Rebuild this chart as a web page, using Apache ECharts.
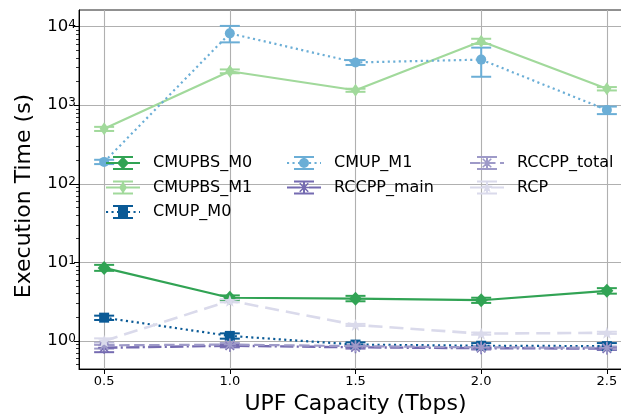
<!DOCTYPE html>
<html>
<head>
<meta charset="utf-8">
<script src="https://cdn.jsdelivr.net/npm/echarts@6/dist/echarts.min.js"></script>
<style>
html,body{margin:0;padding:0;background:#fff;}
#chart{width:621px;height:419px;}
</style>
</head>
<body>
<div id="chart"></div>
<script>
// ---------------- data ----------------
const capacities = [0.5, 1.0, 1.5, 2.0, 2.5];
const xTicks = [0.5, 1.0, 1.5, 2.0, 2.5];
const yMajorTicks = [1, 10, 100, 1000, 10000];

const cmupbsM0   = [8.5, 3.55, 3.45, 3.3, 4.35];
const cmupbsM0Lo = [7.8, 3.3, 3.2, 3.05, 4.0];
const cmupbsM0Hi = [9.3, 3.8, 3.75, 3.55, 4.7];

const cmupbsM1   = [500, 2700, 1550, 6500, 1620];
const cmupbsM1Lo = [470, 2550, 1480, 6000, 1540];
const cmupbsM1Hi = [530, 2850, 1620, 7000, 1700];

const cmupM0   = [1.98, 1.16, 0.90, 0.87, 0.86];
const cmupM0Lo = [1.85, 1.07, 0.84, 0.80, 0.78];
const cmupM0Hi = [2.10, 1.25, 0.96, 0.94, 0.94];

const cmupM1   = [190, 8200, 3500, 3800, 870];
const cmupM1Lo = [178, 6300, 3250, 2300, 770];
const cmupM1Hi = [202, 10200, 3750, 5400, 960];

const rccppMain   = [0.82, 0.87, 0.83, 0.81, 0.80];
const rccppMainLo = [0.72, 0.83, 0.80, 0.78, 0.77];
const rccppMainHi = [0.90, 0.91, 0.86, 0.84, 0.83];

const rccppTotal   = [0.88, 0.90, 0.86, 0.83, 0.82];
const rccppTotalLo = [0.80, 0.86, 0.83, 0.80, 0.79];
const rccppTotalHi = [0.95, 0.94, 0.89, 0.86, 0.85];

const rcp   = [1.0, 3.25, 1.6, 1.24, 1.27];
const rcpLo = [0.93, 3.1, 1.55, 1.2, 1.23];
const rcpHi = [1.08, 3.4, 1.65, 1.28, 1.31];

const seriesNames = ['CMUPBS_M0','CMUPBS_M1','CMUP_M0','CMUP_M1','RCCPP_main','RCCPP_total','RCP'];

// ---------------- helpers ----------------
const FONT = 'DejaVu Sans';
const f = n => (+n).toFixed(2);
function rectP(x, y, w, h) {
  return `M${f(x)} ${f(y)}L${f(x+w)} ${f(y)}L${f(x+w)} ${f(y+h)}L${f(x)} ${f(y+h)}Z`;
}
function barP(cx, cy, len, th, ang) {
  const c = Math.cos(ang), s = Math.sin(ang);
  const pts = [[-len,-th/2],[len,-th/2],[len,th/2],[-len,th/2]].map(([x,y]) => [cx + x*c - y*s, cy + x*s + y*c]);
  return 'M' + pts.map(p => f(p[0]) + ' ' + f(p[1])).join('L') + 'Z';
}
function asteriskP(cx, cy, r, th) {
  return [0, Math.PI/4, Math.PI/2, 3*Math.PI/4].map(a => barP(cx, cy, r, th, a)).join('');
}
function starP(cx, cy, R) {
  const r = R * 0.42; const pts = [];
  for (let i = 0; i < 10; i++) {
    const a = -Math.PI/2 + i * Math.PI / 5;
    const rr = i % 2 === 0 ? R : r;
    pts.push([cx + rr*Math.cos(a), cy + rr*Math.sin(a)]);
  }
  return 'M' + pts.map(p => f(p[0]) + ' ' + f(p[1])).join('L') + 'Z';
}
function diamondP(cx, cy, w, h) {
  return `M${f(cx)} ${f(cy-h/2)}L${f(cx+w/2)} ${f(cy)}L${f(cx)} ${f(cy+h/2)}L${f(cx-w/2)} ${f(cy)}Z`;
}
function circleP(cx, cy, r) {
  return `M${f(cx-r)} ${f(cy)}A${r} ${r} 0 1 1 ${f(cx+r)} ${f(cy)}A${r} ${r} 0 1 1 ${f(cx-r)} ${f(cy)}Z`;
}
function dashRects(pattern, total, y, th) {
  if (!pattern) return rectP(0, y, total, th);
  let x = 0, i = 0, s = '';
  while (x < total) {
    const len = pattern[i % pattern.length];
    if (i % 2 === 0) s += rectP(x, y, Math.min(len, total - x), th);
    x += len; i++;
  }
  return s;
}
const IW = 34, IH = 14;
function legendIcon(pattern, markerPath) {
  let s = `M0 0L0 0ZM${IW} ${IH}L${IW} ${IH}Z`;
  s += dashRects(pattern, IW, IH/2 - 1, 2);
  s += rectP(IW/2 - 10, 0, 20, 2) + rectP(IW/2 - 10, IH - 2, 20, 2) + rectP(IW/2 - 1, 0, 2, IH);
  s += markerPath;
  return 'path://' + s;
}

const DOTTED = [2.1, 3.4];
const DASHDOT = [13.3, 3.3, 2.1, 3.3];
const DASHED = [10.5, 4.5];
const DASHED_RCP = [14, 7];

const C = {
  CMUPBS_M0: '#31a354', CMUPBS_M1: '#a1d99b', CMUP_M0: '#0a5a96', CMUP_M1: '#6baed6',
  RCCPP_main: '#756bb1', RCCPP_total: '#9e9ac8', RCP: '#dadaeb'
};

const asteriskSym = 'path://' + asteriskP(6, 6, 6, 1.6);
const starSym = 'path://' + starP(6, 6, 6);

const cx = IW/2, cy = IH/2;
const icons = {
  CMUPBS_M0: legendIcon(null, diamondP(cx, cy, 12, 13)),
  CMUPBS_M1: legendIcon(null, diamondP(cx, cy, 8, 12)),
  CMUP_M0: legendIcon(DOTTED, rectP(cx-5, cy-5, 10, 10)),
  CMUP_M1: legendIcon(DOTTED, circleP(cx, cy, 5)),
  RCCPP_main: legendIcon(DASHDOT, asteriskP(cx, cy, 6, 1.6)),
  RCCPP_total: legendIcon(DASHED, asteriskP(cx, cy, 6, 1.6)),
  RCP: legendIcon(DASHED_RCP, starP(cx, cy, 6))
};

function errRender(color) {
  return function (params, api) {
    const x = api.value(0);
    const lo = api.coord([x, api.value(1)]);
    const hi = api.coord([x, api.value(2)]);
    const cw = 10;
    const st = { stroke: color, lineWidth: 2, fill: null };
    return { type: 'group', children: [
      { type: 'line', shape: { x1: lo[0], y1: lo[1], x2: hi[0], y2: hi[1] }, style: st },
      { type: 'line', shape: { x1: lo[0]-cw, y1: lo[1], x2: lo[0]+cw, y2: lo[1] }, style: st },
      { type: 'line', shape: { x1: hi[0]-cw, y1: hi[1], x2: hi[0]+cw, y2: hi[1] }, style: st }
    ]};
  };
}

function makeSeries(name, vals, lo, hi, lineType, lineWidth, symbol, symbolSize) {
  const color = C[name];
  return [
    {
      type: 'custom', name: name + '_err', renderItem: errRender(color),
      data: capacities.map((x, i) => [x, lo[i], hi[i]]),
      encode: { x: 0, y: [1, 2] }, silent: true
    },
    {
      type: 'line', name: name,
      data: capacities.map((x, i) => [x, vals[i]]),
      symbol: symbol, symbolSize: symbolSize, showSymbol: true,
      lineStyle: { color: color, width: lineWidth, type: lineType || 'solid', cap: 'butt' },
      itemStyle: { color: color, borderWidth: 0 },
      emphasis: { disabled: true }, animation: false
    }
  ];
}

const series = [].concat(
  makeSeries('CMUPBS_M0', cmupbsM0, cmupbsM0Lo, cmupbsM0Hi, null, 2.2, 'diamond', [13, 14]),
  makeSeries('CMUPBS_M1', cmupbsM1, cmupbsM1Lo, cmupbsM1Hi, null, 2.2, 'diamond', [9, 13]),
  makeSeries('CMUP_M0', cmupM0, cmupM0Lo, cmupM0Hi, DOTTED, 2.2, 'rect', 10),
  makeSeries('CMUP_M1', cmupM1, cmupM1Lo, cmupM1Hi, DOTTED, 2.2, 'circle', 10),
  makeSeries('RCCPP_main', rccppMain, rccppMainLo, rccppMainHi, DASHDOT, 2.4, asteriskSym, 12),
  makeSeries('RCCPP_total', rccppTotal, rccppTotalLo, rccppTotalHi, DASHED, 2.2, asteriskSym, 12),
  makeSeries('RCP', rcp, rcpLo, rcpHi, DASHED_RCP, 2.6, starSym, 12)
);

const yMinor = [];
[0.1, 1, 10, 100, 1000].forEach(d => { for (let k = 2; k <= 9; k++) yMinor.push(+(k*d).toPrecision(3)); });

const legendBase = {
  orient: 'vertical', padding: 0, itemGap: 6.5, itemWidth: IW, itemHeight: IH,
  itemStyle: { borderWidth: 0 }, selectedMode: false,
  textStyle: { fontFamily: FONT, fontSize: 16, color: '#000', lineHeight: 18, padding: [0, 0, 0, 8] }
};
const legendCols = [['CMUPBS_M0','CMUPBS_M1','CMUP_M0'], ['CMUP_M1','RCCPP_main'], ['RCCPP_total','RCP']];
const legendLeft = [106, 287, 470];

const option = {
  backgroundColor: '#fff',
  animation: false,
  grid: { left: 79, top: 10, right: -11, bottom: 50, outerBoundsMode: 'none', containLabel: false,
          show: true, borderColor: '#222', borderWidth: 1 },
  legend: legendCols.map((names, i) => Object.assign({}, legendBase, {
    left: legendLeft[i], top: 154,
    data: names.map(n => ({ name: n, icon: icons[n] }))
  })),
  xAxis: {
    type: 'value', min: 0.4, max: 2.6,
    name: 'UPF Capacity (Tbps)', nameLocation: 'middle', nameGap: 23,
    nameTextStyle: { fontFamily: FONT, fontSize: 22, color: '#000' },
    axisLine: { lineStyle: { color: '#000', width: 1 } },
    axisTick: { customValues: xTicks, length: 5, lineStyle: { color: '#000', width: 1 } },
    axisLabel: { customValues: xTicks, margin: 6, fontFamily: FONT, fontSize: 13, color: '#000',
      formatter: v => v.toFixed(1) },
    splitLine: { show: true, lineStyle: { color: '#b0b0b0', width: 1.1 } }
  },
  yAxis: [
    {
      type: 'log', min: 0.44, max: 16260, logBase: 10,
      name: 'Execution Time (s)', nameLocation: 'middle', nameGap: 44, nameRotate: 90,
      nameTextStyle: { fontFamily: FONT, fontSize: 22, color: '#000', padding: [0, 13, 0, 0] },
      axisLine: { show: true, lineStyle: { color: '#000', width: 1 } },
      axisTick: { customValues: yMajorTicks, length: 5, lineStyle: { color: '#000', width: 1 } },
      axisLabel: {
        customValues: yMajorTicks, margin: 3,
        formatter: v => '{b|10}{s|' + Math.round(Math.log10(v)) + '}',
        rich: {
          b: { fontFamily: FONT, fontSize: 16.5, color: '#000', lineHeight: 16, padding: [4.5, 0, 4.5, 0], verticalAlign: 'middle' },
          s: { fontFamily: FONT, fontSize: 12, color: '#000', lineHeight: 12, padding: [0, 0, 13, 0], verticalAlign: 'top' }
        }
      },
      splitLine: { show: true, lineStyle: { color: '#b0b0b0', width: 1.1 } }
    },
    {
      type: 'log', min: 0.44, max: 16260, logBase: 10, position: 'left',
      axisLine: { show: false },
      axisTick: { customValues: yMinor, length: 3, lineStyle: { color: '#000', width: 0.8 } },
      axisLabel: { show: false },
      splitLine: { show: false }
    }
  ],
  series: series
};

const chart = echarts.init(document.getElementById('chart'), null, { renderer: 'canvas' });
chart.setOption(option);
</script>
</body>
</html>
